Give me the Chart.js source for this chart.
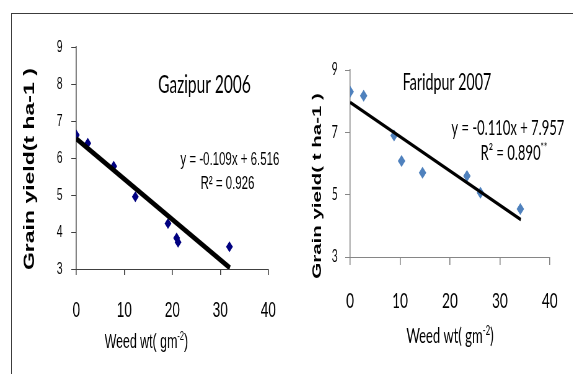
<!DOCTYPE html>
<html>
<head>
<meta charset="utf-8">
<title>Grain yield vs weed weight</title>
<script src="https://cdn.jsdelivr.net/npm/chart.js@4.4.1/dist/chart.umd.min.js"></script>
<style>
  html, body { margin: 0; padding: 0; background: #fff; }
  body { width: 573px; height: 374px; position: relative; overflow: hidden; }
  #frame { position: absolute; left: 11px; top: 13px; right: -4px; bottom: -4px;
           border-top: 1px solid #3c3c3c; border-left: 1px solid #3c3c3c; }
  /* the source figure is squeezed sideways, so each chart is drawn wide and scaled */
  .panel { position: absolute; top: 0; transform: scaleX(0.62); transform-origin: 0 0; }
  #leftPanel { left: 0; }
  #rightPanel { left: 290px; }
</style>
</head>
<body>
<div id="frame"></div>
<div class="panel" id="leftPanel"><canvas id="gazipurChart" width="468" height="374"></canvas></div>
<div class="panel" id="rightPanel"><canvas id="faridpurChart" width="457" height="374"></canvas></div>
<script>
// Gazipur 2006 (left panel)
const gazipurWeed  = [0, 2.4, 7.8, 12.3, 19.1, 20.9, 21.2, 31.9];
const gazipurYield = [6.62, 6.40, 5.78, 4.95, 4.23, 3.84, 3.72, 3.60];
const gazipurFitX  = [0, 32];
const gazipurFitY  = [6.52, 3.03];
const gazipurYTicks = [3, 9, 1];   // min, max, step

// Faridpur 2007 (right panel)
const faridpurWeed  = [0, 2.7, 8.8, 10.3, 14.5, 23.4, 26.1, 34.1];
const faridpurYield = [8.30, 8.17, 6.90, 6.08, 5.70, 5.60, 5.06, 4.54];
const faridpurFitX  = [0, 34.2];
const faridpurFitY  = [7.96, 4.20];
const faridpurYTicks = [3, 9, 2];

const weedTicks = [0, 40, 10];

document.addEventListener('DOMContentLoaded', () => {
    const toPoints = (xs, ys) => xs.map((x, i) => ({ x, y: ys[i] }));

    // free text (titles, equations, axis names) placed at data coordinates
    const notes = items => ({
        id: 'notes',
        afterDraw(chart) {
            const ctx = chart.ctx;
            items.forEach(it => {
                const px = chart.scales.x.getPixelForValue(it.at[0]);
                const py = chart.scales.y.getPixelForValue(it.at[1]);
                const parts = it.parts.map(p => typeof p === 'string' ? { t: p } : p);
                const fontFor = p => `${it.weight || 'normal'} ${p.sup ? it.size * 0.6 : it.size}px ${it.family}`;
                ctx.save();
                ctx.translate(px, py);
                if (it.rotate) ctx.rotate(it.rotate * Math.PI / 180);
                ctx.fillStyle = '#000';
                ctx.textAlign = 'left';
                ctx.textBaseline = it.baseline || 'alphabetic';
                let w = 0;
                parts.forEach(p => { ctx.font = fontFor(p); p.w = ctx.measureText(p.t).width; w += p.w; });
                let x = -w / 2;
                parts.forEach(p => {
                    ctx.font = fontFor(p);
                    ctx.fillText(p.t, x, p.sup ? -it.size * 0.4 : 0);
                    x += p.w;
                });
                ctx.restore();
            });
        }
    });

    const buildChart = (id, c) => new Chart(document.getElementById(id), {
        type: 'scatter',
        data: {
            datasets: [
                {
                    type: 'line',
                    data: toPoints(c.fitX, c.fitY),
                    borderColor: '#000',
                    borderWidth: c.lineWidth,
                    pointRadius: 0,
                    fill: false,
                    order: 0
                },
                {
                    data: toPoints(c.x, c.y),
                    pointStyle: 'rectRot',
                    pointRadius: c.marker,
                    backgroundColor: c.markerColor,
                    borderColor: c.markerColor,
                    borderWidth: 0,
                    order: 1
                }
            ]
        },
        options: {
            responsive: false,
            animation: false,
            devicePixelRatio: 1,
            layout: { padding: c.padding },
            plugins: { legend: { display: false }, tooltip: { enabled: false } },
            scales: {
                x: {
                    type: 'linear',
                    min: weedTicks[0], max: weedTicks[1],
                    ticks: { stepSize: weedTicks[2], color: '#000', padding: c.xPad,
                             font: { family: c.tickFamily, size: c.xTickSize } },
                    grid: { drawOnChartArea: false, tickLength: c.xTickLen, color: c.axisColor, lineWidth: 1.6 },
                    border: { color: c.axisColor, width: 1 },
                    afterFit: s => { s.height = c.xHeight; }
                },
                y: {
                    type: 'linear',
                    min: c.yTicks[0], max: c.yTicks[1],
                    ticks: { stepSize: c.yTicks[2], color: '#000', padding: c.yPad,
                             font: { family: c.tickFamily, size: c.yTickSize } },
                    grid: { drawOnChartArea: false, tickLength: 8, color: c.axisColor, lineWidth: 1 },
                    border: { color: c.axisColor, width: 1.6 },
                    afterFit: s => { s.width = c.yWidth; }
                }
            }
        },
        plugins: [notes(c.notes)]
    });

    buildChart('gazipurChart', {
        x: gazipurWeed, y: gazipurYield, fitX: gazipurFitX, fitY: gazipurFitY, yTicks: gazipurYTicks,
        lineWidth: 5.5, marker: 5.5, markerColor: '#000080', axisColor: '#404040',
        padding: { left: 0, right: 26, top: 47, bottom: 0 }, yWidth: 123, xHeight: 105,
        tickFamily: "'Liberation Sans', Arial, sans-serif", xTickSize: 22, yTickSize: 17,
        xPad: 23, yPad: 14, xTickLen: 6,
        notes: [
            { at: [26.7, 7.76], parts: ['Gazipur 2006'], family: 'Lato', size: 25 },
            { at: [32.0, 5.81], parts: ['y = -0.109x + 6.516'], family: "'Liberation Sans'", size: 18.5 },
            { at: [31.5, 5.16], parts: ['R² = 0.926'], family: "'Liberation Sans'", size: 18.5 },
            { at: [14.6, 0.865], parts: ['Weed wt( gm', { t: '-2', sup: true }, ')'], family: "'Liberation Sans'", size: 20 },
            { at: [-9.6, 5.70], parts: ['Grain yield(t ha-1 )'], family: "'Liberation Sans'", size: 23,
              weight: 'bold', rotate: -90, baseline: 'middle' }
        ]
    });

    buildChart('faridpurChart', {
        x: faridpurWeed, y: faridpurYield, fitX: faridpurFitX, fitY: faridpurFitY, yTicks: faridpurYTicks,
        lineWidth: 3.5, marker: 6, markerColor: '#4f81bd', axisColor: '#868686',
        padding: { left: 0, right: 38, top: 70, bottom: 0 }, yWidth: 97, xHeight: 117,
        tickFamily: 'Lato, sans-serif', xTickSize: 22, yTickSize: 17,
        xPad: 23, yPad: 12, xTickLen: 8,
        notes: [
            { at: [19.4, 8.36], parts: ['Faridpur 2007'], family: 'Lato', size: 23 },
            { at: [31.6, 6.91], parts: ['y = -0.110x + 7.957'], family: 'Lato', size: 21 },
            { at: [32.8, 6.11], parts: ['R² = 0.890', { t: '**', sup: true }], family: 'Lato', size: 21 },
            { at: [20.0, 0.24], parts: ['Weed wt( gm', { t: '-2', sup: true }, ')'], family: 'Lato', size: 21 },
            { at: [-6.6, 5.28], parts: ['Grain yield( t ha-1 )'], family: "'Liberation Sans'", size: 20.5,
              weight: 'bold', rotate: -90, baseline: 'middle' }
        ]
    });
});
</script>
</body>
</html>
